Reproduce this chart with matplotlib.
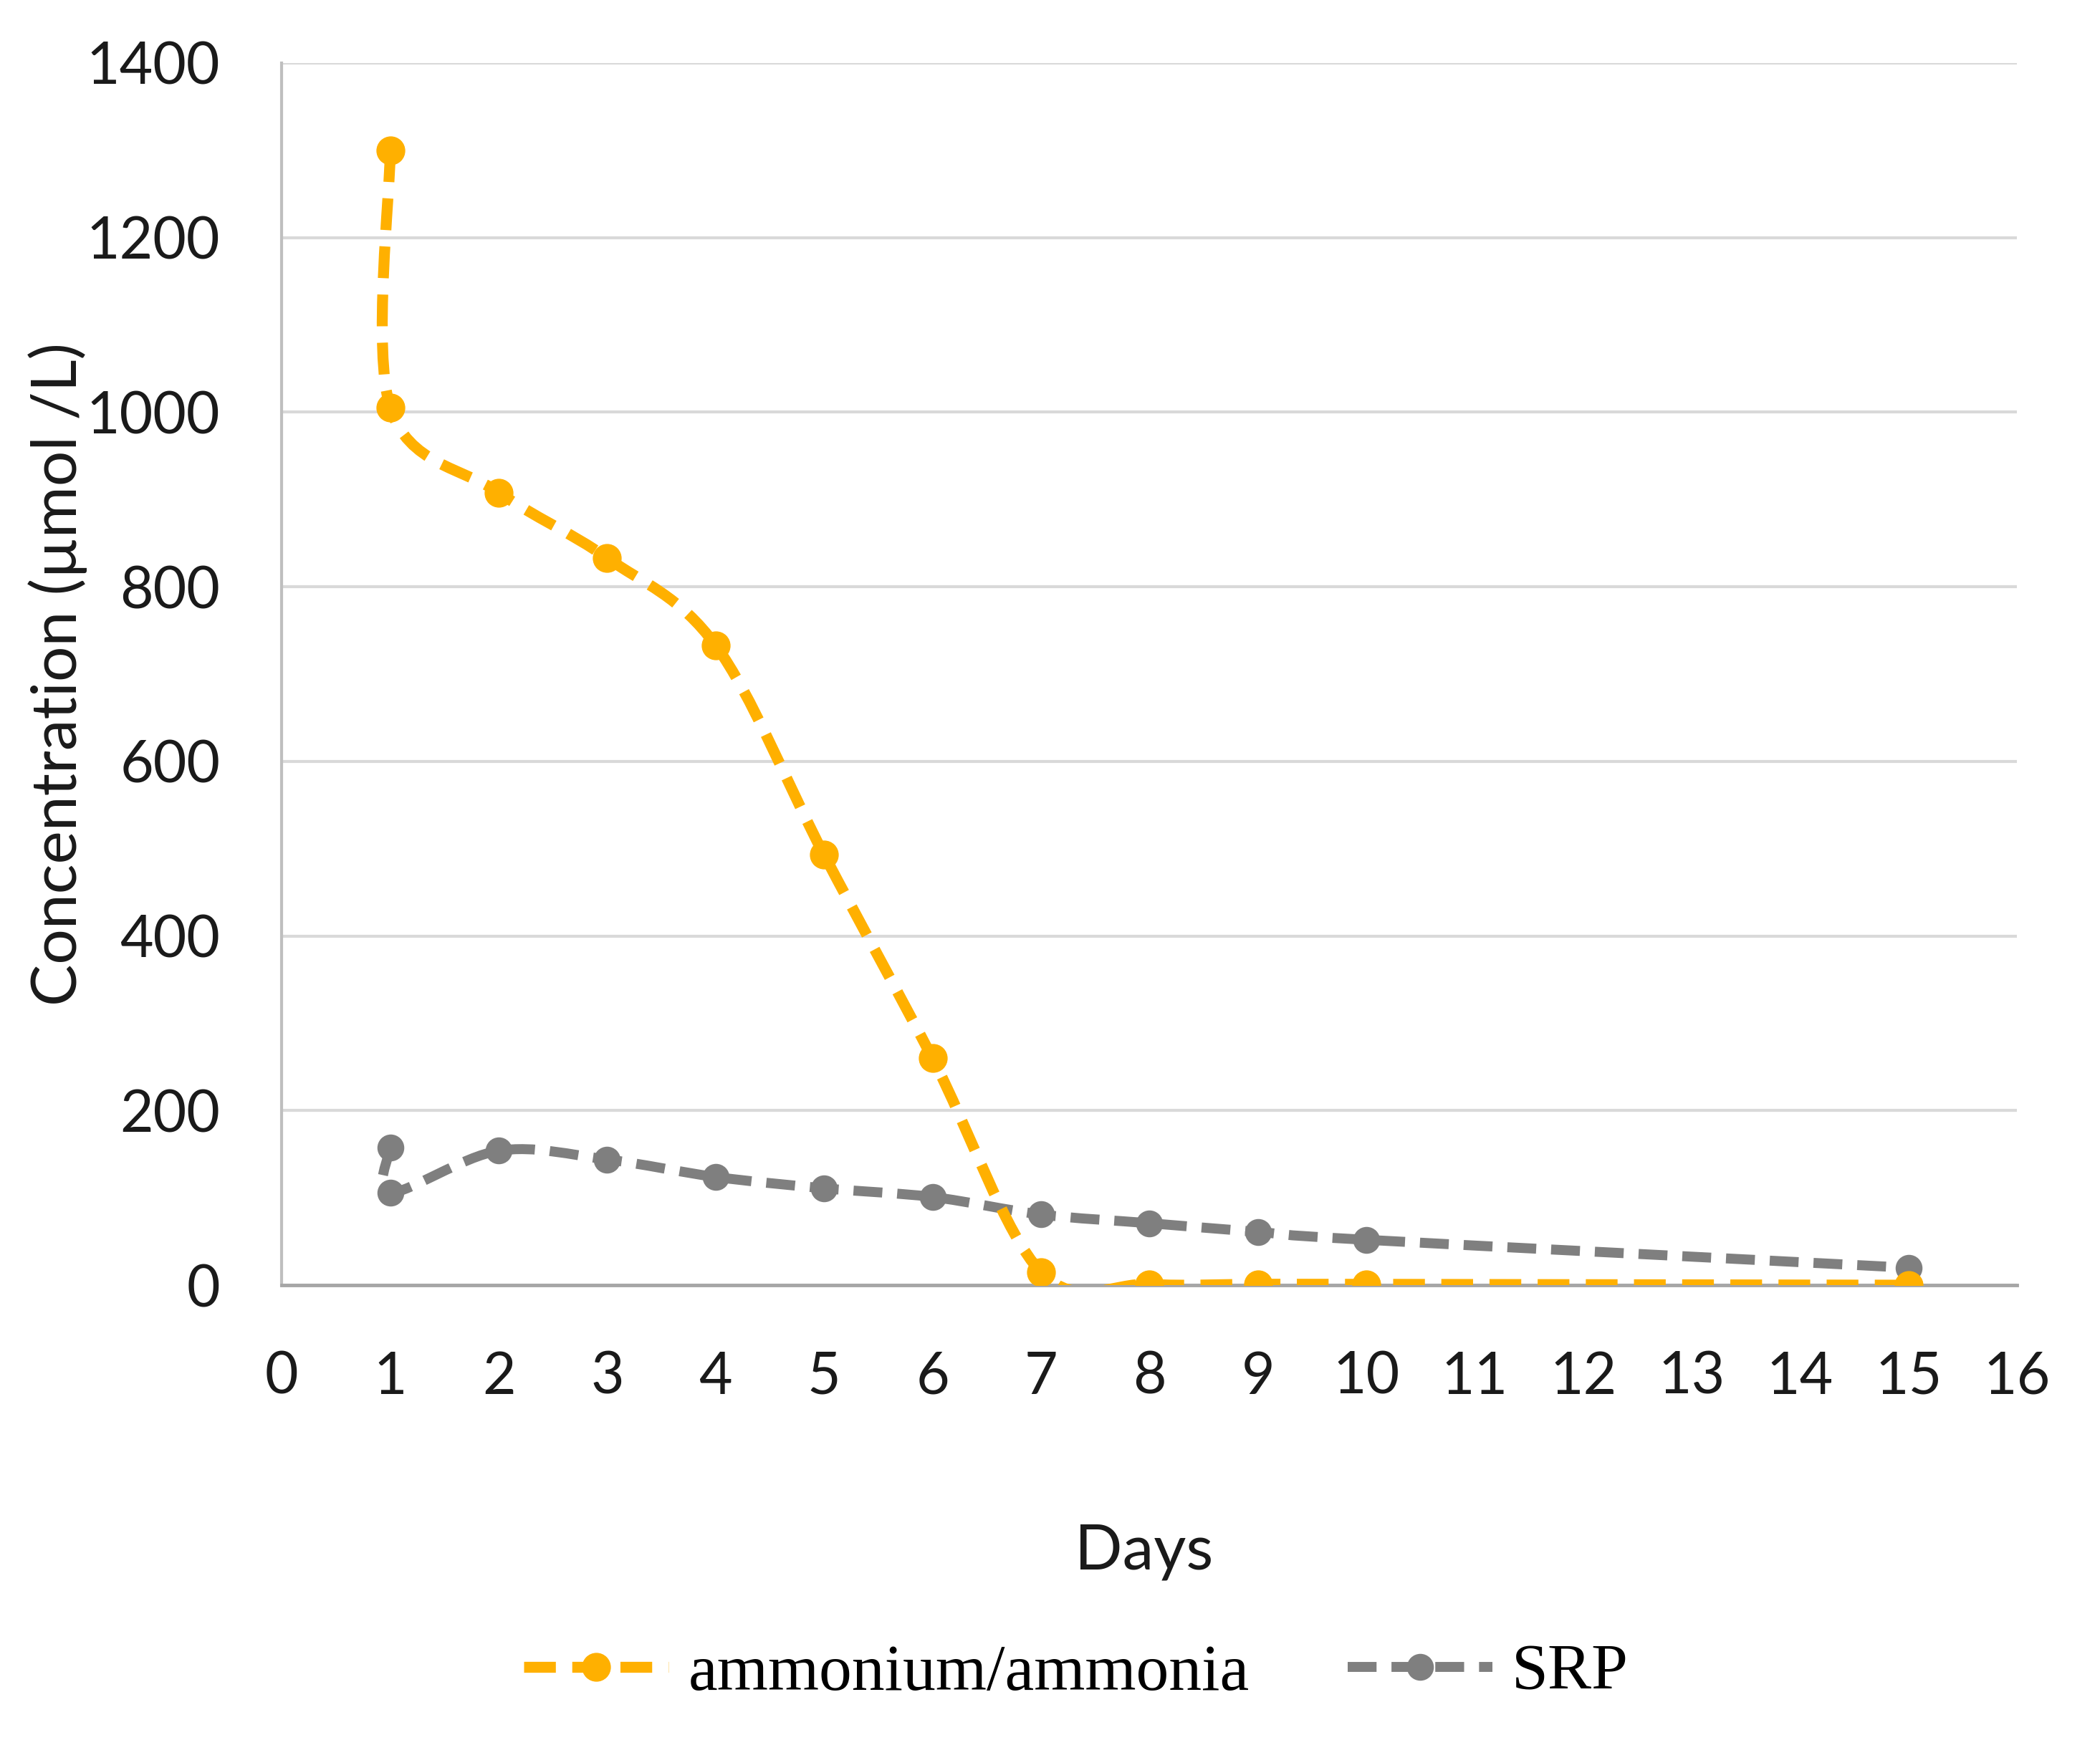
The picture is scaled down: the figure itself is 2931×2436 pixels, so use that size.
import matplotlib
matplotlib.use("Agg")
import matplotlib.pyplot as plt
from matplotlib.path import Path
from matplotlib.patches import PathPatch
from matplotlib.lines import Line2D

# data
amm_days = [1, 1, 2, 3, 4, 5, 6, 7, 8, 9, 10, 15]
amm_conc = [1300, 1005, 908, 833, 733, 493, 260, 15, 1, 1, 1, 0]
srp_days = [1, 1, 2, 3, 4, 5, 6, 7, 8, 9, 10, 15]
srp_conc = [158, 106, 154, 144, 124, 111, 101, 81, 71, 61, 52, 20]

x_ticks = list(range(0, 17))
y_ticks = list(range(0, 1401, 200))

orange = "#FFB000"
grey = "#7F7F7F"
grid_col = "#D9D9D9"
dash = (0, (2.9, 1.5))


def smooth_path(xs, ys):
    # excel style smoothed line: cubic bezier through the points
    pts = list(zip(xs, ys))
    n = len(pts)
    verts = [pts[0]]
    codes = [Path.MOVETO]
    for i in range(n - 1):
        p0 = pts[i - 1] if i > 0 else pts[i]
        p1 = pts[i]
        p2 = pts[i + 1]
        p3 = pts[i + 2] if i + 2 < n else pts[i + 1]
        c1 = (p1[0] + (p2[0] - p0[0]) / 6, p1[1] + (p2[1] - p0[1]) / 6)
        c2 = (p2[0] - (p3[0] - p1[0]) / 6, p2[1] - (p3[1] - p1[1]) / 6)
        verts += [c1, c2, p2]
        codes += [Path.CURVE4] * 3
    return Path(verts, codes)


fig = plt.figure(figsize=(29.31, 24.36), dpi=100)
ax = fig.add_axes([0.1342, 0.2635, 0.8263, 0.7004])

tick_font = "Lato"

ax.set_xlim(0, 16)
ax.set_ylim(0, 1400)
ax.set_xticks(x_ticks)
ax.set_yticks(y_ticks)
ax.grid(axis="y", color=grid_col, linewidth=3)
ax.set_axisbelow(True)
for s in ["top", "right"]:
    ax.spines[s].set_visible(False)
ax.spines["left"].set_color("#BFBFBF")
ax.spines["left"].set_linewidth(3)
ax.spines["bottom"].set_color("#A6A6A6")
ax.spines["bottom"].set_linewidth(3.5)
ax.tick_params(length=0, labelsize=58, pad=0)
ax.tick_params(axis="y", pad=62)
ax.tick_params(axis="x", pad=66)
for lab in ax.get_xticklabels() + ax.get_yticklabels():
    lab.set_fontfamily(tick_font)
    lab.set_color("#1A1A1A")

ax.add_patch(PathPatch(smooth_path(srp_days, srp_conc), fill=False,
                       edgecolor=grey, linewidth=10,
                       linestyle=dash, capstyle="butt", zorder=3))
ax.plot(srp_days, srp_conc, linestyle="none", marker="o", markersize=26,
        color=grey, zorder=4)

ax.add_patch(PathPatch(smooth_path(amm_days, amm_conc), fill=False,
                       edgecolor=orange, linewidth=11,
                       linestyle=dash, capstyle="butt", zorder=5))
ax.plot(amm_days, amm_conc, linestyle="none", marker="o", markersize=28,
        color=orange, zorder=6)

ax.set_ylabel("Concentration (µmol /L)", fontsize=63, family=tick_font,
              color="#1A1A1A")
ax.yaxis.set_label_coords(-0.112, 0.5)
ax.set_xlabel("Days", fontsize=63, family=tick_font, color="#1A1A1A")
ax.xaxis.set_label_coords(0.497, -0.195)

handles = [
    Line2D([], [], color=orange, linewidth=11, linestyle=dash,
           marker="o", markersize=28),
    Line2D([], [], color=grey, linewidth=10, linestyle=dash,
           marker="o", markersize=26),
]
fig.legend(handles, ["ammonium/ammonia", "SRP"], loc="center",
           bbox_to_anchor=(0.5125, 0.041), ncol=2, frameon=False,
           prop={"family": "Liberation Serif", "size": 66},
           handlelength=2.2, handletextpad=0.3, columnspacing=1.5)

fig.savefig("out.png", dpi=100)
